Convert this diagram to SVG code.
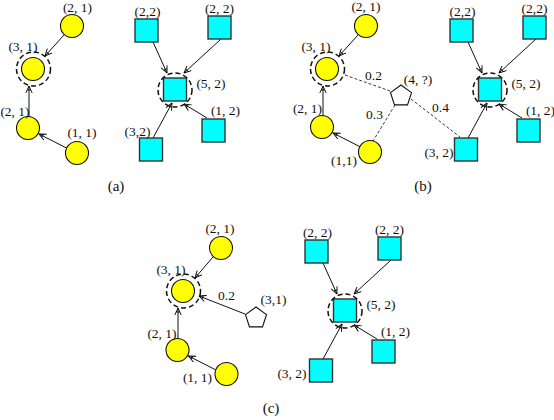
<svg xmlns="http://www.w3.org/2000/svg" width="554" height="420" viewBox="0 0 554 420">
<defs>
<marker id="arr" viewBox="0 0 8 8" refX="7.5" refY="4" markerWidth="8" markerHeight="8" markerUnits="userSpaceOnUse" orient="auto">
<path d="M0.5,0.8 L7.5,4 L0.5,7.2 M3.5,2.2 L3.5,5.8" fill="none" stroke="#000" stroke-width="0.9"/>
</marker>
</defs>
<style>
text{font-family:"Liberation Serif","DejaVu Serif",serif;font-size:13.5px;fill:#111}
.cap{font-size:15px}
.c{fill:#ffff00;stroke:#111;stroke-width:1.1}
.s{fill:#00ffff;stroke:#333;stroke-width:1.4}
.p{fill:#fff;stroke:#111;stroke-width:1.1}
.ring{fill:none;stroke:#111;stroke-width:1.5;stroke-dasharray:5 3}
.e{stroke:#111;stroke-width:1;fill:none;marker-end:url(#arr)}
.d{stroke:#222;stroke-width:0.9;fill:none;stroke-dasharray:3 2}
</style>
<rect width="554" height="420" fill="#fff"/>

<g id="connectors">
<!-- (a) -->
<line class="e" x1="64" y1="35" x2="45" y2="56"/>
<line class="e" x1="29" y1="116" x2="29" y2="86"/>
<line class="e" x1="66.5" y1="148" x2="39" y2="134"/>
<line class="e" x1="153" y1="42" x2="167" y2="73"/>
<line class="e" x1="221" y1="39" x2="184" y2="73"/>
<line class="e" x1="207" y1="118" x2="184" y2="104"/>
<line class="e" x1="153" y1="138" x2="172" y2="103"/>
<!-- (b) -->
<line class="e" x1="358" y1="35" x2="339" y2="56"/>
<line class="e" x1="323" y1="115" x2="323" y2="86"/>
<line class="e" x1="360.5" y1="147" x2="333" y2="133"/>
<line class="e" x1="468" y1="42" x2="482" y2="73"/>
<line class="e" x1="536" y1="39" x2="499" y2="73"/>
<line class="e" x1="522" y1="118" x2="499" y2="104"/>
<line class="e" x1="468" y1="138" x2="487" y2="103"/>
<line class="d" x1="345" y1="75" x2="390" y2="91"/>
<line class="d" x1="395" y1="105" x2="373" y2="141"/>
<line class="d" x1="411" y1="99" x2="460" y2="137"/>
<!-- (c) -->
<line class="e" x1="213" y1="257" x2="195" y2="278"/>
<line class="e" x1="178" y1="338" x2="178" y2="308"/>
<line class="e" x1="216" y1="370" x2="188.5" y2="356"/>
<line class="e" x1="245" y1="314" x2="199" y2="296"/>
<line class="e" x1="323" y1="263" x2="337" y2="294"/>
<line class="e" x1="391" y1="260" x2="354" y2="294"/>
<line class="e" x1="377" y1="339" x2="354" y2="325"/>
<line class="e" x1="323" y1="359" x2="342" y2="324"/>
</g>

<g id="edge-labels">
<text x="365" y="80">0.2</text>
<text x="366" y="119">0.3</text>
<text x="432" y="112">0.4</text>
<text x="218" y="300">0.2</text>
</g>

<!-- panel (a) -->
<g id="a-c21top"><circle class="c" cx="72" cy="26" r="11.5"/><text x="77.5" y="12" text-anchor="middle">(2, 1)</text></g>
<g id="a-c31"><circle class="c" cx="33" cy="69" r="11.5"/><circle class="ring" cx="33.5" cy="69" r="17"/><text x="23" y="51" text-anchor="middle">(3, 1)</text></g>
<g id="a-c21low"><circle class="c" cx="28" cy="128" r="11.5"/><text x="15" y="116" text-anchor="middle">(2, 1)</text></g>
<g id="a-c11"><circle class="c" cx="77" cy="153" r="11.5"/><text x="82" y="137" text-anchor="middle">(1, 1)</text></g>
<g id="a-s22l"><rect class="s" x="135" y="19" width="23" height="23"/><text x="147.5" y="16" text-anchor="middle">(2,2)</text></g>
<g id="a-s22r"><rect class="s" x="208" y="16" width="23" height="23"/><text x="219.5" y="13" text-anchor="middle">(2, 2)</text></g>
<g id="a-s52"><rect class="s" x="163.5" y="78" width="23" height="23"/><circle class="ring" cx="175" cy="90" r="17"/><text x="211" y="88" text-anchor="middle">(5, 2)</text></g>
<g id="a-s12"><rect class="s" x="202" y="119" width="23" height="23"/><text x="225.5" y="115" text-anchor="middle">(1, 2)</text></g>
<g id="a-s32"><rect class="s" x="139.5" y="138" width="23" height="23"/><text x="137.5" y="136" text-anchor="middle">(3,2)</text></g>
<text class="cap" x="116" y="191" text-anchor="middle">(a)</text>

<!-- panel (b) -->
<g id="b-c21top"><circle class="c" cx="366" cy="26" r="11.5"/><text x="366" y="11" text-anchor="middle">(2, 1)</text></g>
<g id="b-c31"><circle class="c" cx="327" cy="69" r="11.5"/><circle class="ring" cx="327.5" cy="69" r="17"/><text x="316" y="51" text-anchor="middle">(3, 1)</text></g>
<g id="b-c21low"><circle class="c" cx="322" cy="127" r="11.5"/><text x="307.5" y="113" text-anchor="middle">(2, 1)</text></g>
<g id="b-c11"><circle class="c" cx="370" cy="152" r="11.5"/><text x="344" y="165" text-anchor="middle">(1,1)</text></g>
<g id="b-p4"><polygon class="p" points="401,85 411.5,92.6 407.5,104.9 394.5,104.9 390.5,92.6"/><text x="418" y="84" text-anchor="middle">(4, ?)</text></g>
<g id="b-s22l"><rect class="s" x="450" y="19" width="23" height="23"/><text x="462.5" y="16" text-anchor="middle">(2,2)</text></g>
<g id="b-s22r"><rect class="s" x="523" y="16" width="23" height="23"/><text x="534.5" y="13" text-anchor="middle">(2,2)</text></g>
<g id="b-s52"><rect class="s" x="478.5" y="78" width="23" height="23"/><circle class="ring" cx="490" cy="90" r="17"/><text x="526" y="88" text-anchor="middle">(5, 2)</text></g>
<g id="b-s12"><rect class="s" x="517" y="119" width="23" height="23"/><text x="540.5" y="115" text-anchor="middle">(1, 2)</text></g>
<g id="b-s32"><rect class="s" x="454.5" y="138" width="23" height="23"/><text x="439" y="157" text-anchor="middle">(3, 2)</text></g>
<text class="cap" x="423" y="191" text-anchor="middle">(b)</text>

<!-- panel (c) -->
<g id="c-c21top"><circle class="c" cx="221" cy="248" r="11.5"/><text x="220" y="233" text-anchor="middle">(2, 1)</text></g>
<g id="c-c31"><circle class="c" cx="183" cy="291" r="11.5"/><circle class="ring" cx="183.5" cy="291" r="17"/><text x="171" y="274" text-anchor="middle">(3, 1)</text></g>
<g id="c-c21low"><circle class="c" cx="177.5" cy="350" r="11.5"/><text x="162" y="338" text-anchor="middle">(2, 1)</text></g>
<g id="c-c11"><circle class="c" cx="226.5" cy="374" r="11.5"/><text x="197.5" y="382" text-anchor="middle">(1, 1)</text></g>
<g id="c-p31"><polygon class="p" points="256,307 266.5,314.6 262.5,326.9 249.5,326.9 245.5,314.6"/><text x="273.5" y="304" text-anchor="middle">(3,1)</text></g>
<g id="c-s22l"><rect class="s" x="305" y="240" width="23" height="23"/><text x="317.5" y="237" text-anchor="middle">(2, 2)</text></g>
<g id="c-s22r"><rect class="s" x="378" y="237" width="23" height="23"/><text x="389.5" y="234" text-anchor="middle">(2, 2)</text></g>
<g id="c-s52"><rect class="s" x="333.5" y="299" width="23" height="23"/><circle class="ring" cx="345" cy="311" r="17"/><text x="381" y="309" text-anchor="middle">(5, 2)</text></g>
<g id="c-s12"><rect class="s" x="372" y="340" width="23" height="23"/><text x="395.5" y="336" text-anchor="middle">(1, 2)</text></g>
<g id="c-s32"><rect class="s" x="309.5" y="359" width="23" height="23"/><text x="292" y="378" text-anchor="middle">(3, 2)</text></g>
<text class="cap" x="271" y="413" text-anchor="middle">(c)</text>
</svg>
